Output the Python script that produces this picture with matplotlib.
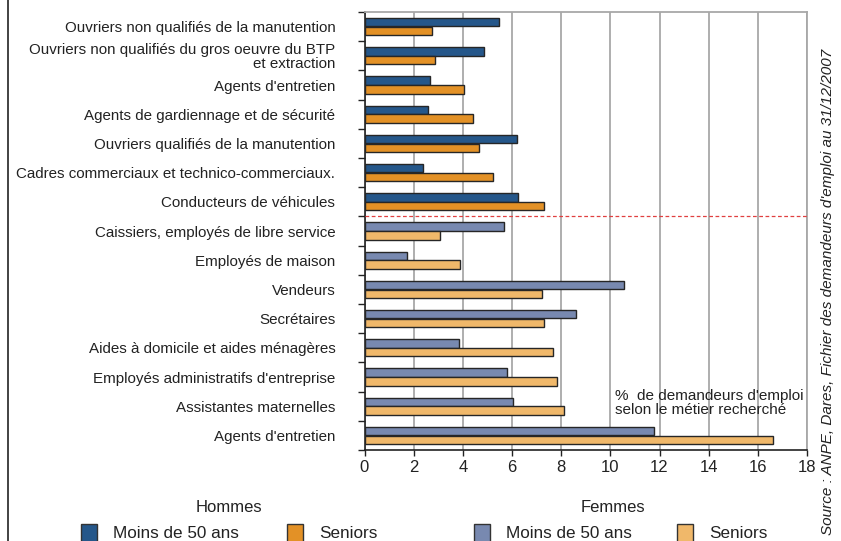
import numpy as np
import matplotlib
matplotlib.use("Agg")
import matplotlib.pyplot as plt
from matplotlib.patches import Rectangle
from matplotlib.lines import Line2D

plt.rcParams["font.family"] = ["Liberation Sans", "DejaVu Sans"]

categories = [
    "Ouvriers non qualifiés de la manutention",
    "Ouvriers non qualifiés du gros oeuvre du BTP\net extraction",
    "Agents d'entretien",
    "Agents de gardiennage et de sécurité",
    "Ouvriers qualifiés de la manutention",
    "Cadres commerciaux et technico-commerciaux.",
    "Conducteurs de véhicules",
    "Caissiers, employés de libre service",
    "Employés de maison",
    "Vendeurs",
    "Secrétaires",
    "Aides à domicile et aides ménagères",
    "Employés administratifs d'entreprise",
    "Assistantes maternelles",
    "Agents d'entretien",
]

# first 7 rows: Hommes, last 8 rows: Femmes
moins50 = [5.46, 4.86, 2.65, 2.57, 6.19, 2.37, 6.23,
           5.66, 1.72, 10.56, 8.60, 3.83, 5.79, 6.04, 11.78]
seniors = [2.74, 2.85, 4.03, 4.42, 4.67, 5.21, 7.31,
           3.08, 3.87, 7.22, 7.31, 7.65, 7.85, 8.10, 16.63]
n_hommes = 7

col_h_moins = "#25578a"
col_h_sen = "#e39126"
col_f_moins = "#7889b0"
col_f_sen = "#f0b86a"

fig = plt.figure(figsize=(8.41, 5.41), dpi=100)
ax = fig.add_axes([364.5 / 841, 1 - 450 / 541, (807 - 364.5) / 841, (450 - 12) / 541])

y = np.arange(len(categories))
c_moins = [col_h_moins if i < n_hommes else col_f_moins for i in y]
c_sen = [col_h_sen if i < n_hommes else col_f_sen for i in y]

ax.barh(y - 0.15, moins50, height=0.29, color=c_moins, edgecolor="#262626", linewidth=1, zorder=3)
ax.barh(y + 0.15, seniors, height=0.29, color=c_sen, edgecolor="#262626", linewidth=1, zorder=3)

ax.set_xlim(0, 18)
ax.set_ylim(len(categories) - 0.5, -0.5)
ax.set_xticks(np.arange(0, 19, 2))
ax.tick_params(axis="x", labelsize=12, length=4, width=1, pad=3, color="#222222", labelcolor="#222222")
ax.set_yticks(y)
ax.set_yticklabels(categories, fontsize=10.9, linespacing=1.0, color="#222222")
ax.set_yticks(np.arange(-0.5, len(categories), 1), minor=True)
ax.tick_params(axis="y", which="major", length=0, pad=21)
ax.tick_params(axis="y", which="minor", length=5, width=1, color="#222222")

ax.grid(axis="x", color="#a8a8a8", linewidth=1.3, zorder=0)
for s in ["top", "right"]:
    ax.spines[s].set_color("#a8a8a8")
    ax.spines[s].set_linewidth(1.3)
for s in ["left", "bottom"]:
    ax.spines[s].set_color("#222222")
    ax.spines[s].set_linewidth(1.2)

ax.axhline(n_hommes - 0.5, color="#e04040", linestyle=(0, (3, 2)), linewidth=0.9, zorder=4)

ax.text(10.2, 12.88, "%  de demandeurs d'emploi\nselon le métier recherché",
        fontsize=11, ha="left", va="center", linespacing=1.0, color="#222222", zorder=5)

# left frame line
fig.add_artist(Line2D([8 / 841, 8 / 841], [0, 1], color="#222222", linewidth=1.2,
                      transform=fig.transFigure))

# source
fig.text(828 / 841, 1 - 292 / 541,
         "Source : ANPE, Dares, Fichier des demandeurs d'emploi au 31/12/2007",
         rotation=90, fontsize=11, style="italic", ha="center", va="center", color="#222222")

# legends
def legend_group(title, title_x, entries):
    fig.text(title_x / 841, 1 - 507 / 541, title, fontsize=12, ha="center", va="center", color="#222222")
    for sx, color, label in entries:
        fig.add_artist(Rectangle((sx / 841, 1 - 545 / 541), 16 / 841, 21 / 541,
                                 facecolor=color, edgecolor="#333333", linewidth=1,
                                 transform=fig.transFigure))
        fig.text((sx + 32) / 841, 1 - 533 / 541, label, fontsize=12.3, ha="left", va="center", color="#222222")

legend_group("Hommes", 229, [(81, col_h_moins, "Moins de 50 ans"), (287, col_h_sen, "Seniors")])
legend_group("Femmes", 613, [(474, col_f_moins, "Moins de 50 ans"), (677, col_f_sen, "Seniors")])

fig.savefig("out.png", dpi=100)
